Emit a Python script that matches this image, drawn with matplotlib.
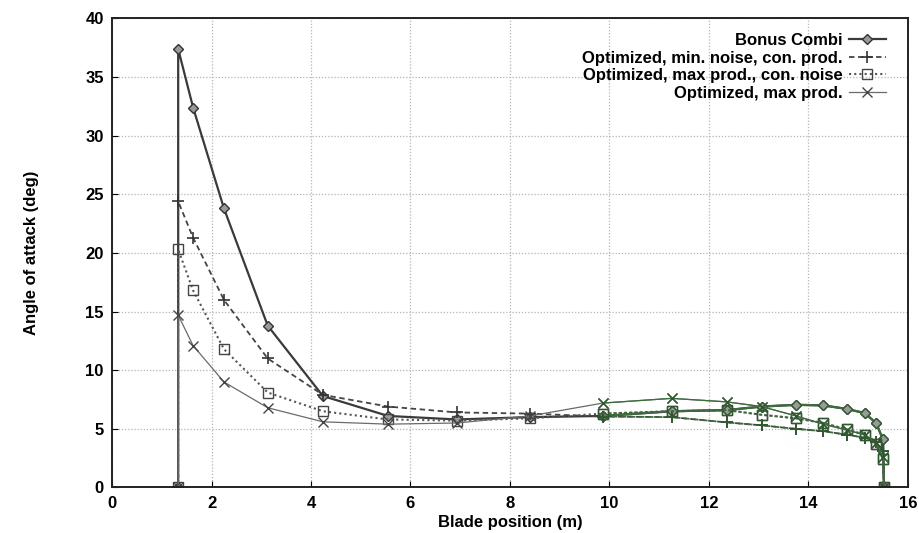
import matplotlib
matplotlib.use("Agg")
import matplotlib.pyplot as plt

plt.rcParams["font.family"] = ["Liberation Sans", "DejaVu Sans"]
plt.rcParams["font.weight"] = "bold"

# blade stations (m)
blade_pos = [1.33, 1.33, 1.63, 2.25, 3.13, 4.24, 5.55, 6.93, 8.40, 9.87,
             11.25, 12.36, 13.06, 13.75, 14.30, 14.77, 15.13, 15.36, 15.50, 15.52]

# angle of attack (deg)
bonus_combi = [0, 37.4, 32.4, 23.8, 13.8, 7.8, 6.1, 5.8, 6.0, 6.1,
               6.5, 6.6, 6.9, 7.05, 7.0, 6.7, 6.35, 5.5, 4.1, 0]
min_noise = [0, 24.4, 21.3, 16.0, 11.0, 7.9, 6.9, 6.4, 6.3, 6.05,
             6.0, 5.55, 5.3, 5.0, 4.8, 4.5, 4.25, 3.9, 3.1, 0]
max_prod_con_noise = [0, 20.3, 16.8, 11.8, 8.1, 6.5, 5.8, 5.7, 5.9, 6.3,
                      6.5, 6.6, 6.2, 5.9, 5.5, 4.95, 4.5, 3.7, 2.4, 0]
max_prod = [0, 14.7, 12.1, 9.0, 6.8, 5.6, 5.4, 5.5, 6.1, 7.2,
            7.6, 7.3, 6.9, 6.1, 5.4, 4.9, 4.5, 3.8, 2.6, 0]

labels = ["Bonus Combi",
          "Optimized, min. noise, con. prod.",
          "Optimized, max prod., con. noise",
          "Optimized, max prod."]

x_ticks = list(range(0, 17, 2))
y_ticks = list(range(0, 41, 5))

fig = plt.figure(figsize=(9.19, 5.33), dpi=100)
ax = fig.add_axes([0.1219, 0.0854, 0.866, 0.880])

styles = [
    dict(color="#3a3a3a", ls="-", lw=1.6, marker="D", ms=5,
         mfc="#9a9a9a", mec="#333333", mew=1.0),
    dict(color="#444444", ls=(0, (3, 2)), lw=1.3, marker="+", ms=8,
         mec="#333333", mew=1.2),
    dict(color="#555555", ls=(0, (1, 1.5)), lw=1.5, marker="s", ms=7,
         mfc="none", mec="#444444", mew=1.0),
    dict(color="#6a6a6a", ls="-", lw=0.9, marker="x", ms=7,
         mec="#444444", mew=1.0),
]
series = [bonus_combi, min_noise, max_prod_con_noise, max_prod]

green = "#3b6e3b"
split = 9  # scan tint turns greenish on the outer part of the blade
for ys, st, lab in zip(series, styles, labels):
    ax.plot(blade_pos, ys, label=lab, **st)
    gst = dict(st)
    gst["color"] = green
    gst["mec"] = "#2f5a2f"
    ax.plot(blade_pos[split:], ys[split:], **gst)

ax.set_xlim(0, 16)
ax.set_ylim(0, 40)
ax.set_xticks(x_ticks)
ax.set_yticks(y_ticks)
ax.tick_params(direction="in", length=4, labelsize=12, pad=6,
               top=False, right=False)
ax.grid(True, color="#b5b5b5", ls=(0, (1, 1.5)), lw=0.9)
for s in ax.spines.values():
    s.set_linewidth(1.4)
    s.set_color("#222222")

ax.set_xlabel("Blade position (m)", fontsize=12, fontweight="bold", labelpad=3)
ax.set_ylabel("Angle of attack (deg)", fontsize=12, fontweight="bold", labelpad=33)

leg = ax.legend(loc="upper right", bbox_to_anchor=(0.972, 0.969), frameon=False,
                markerfirst=False, fontsize=12, handlelength=2.2,
                handletextpad=0.4, labelspacing=0.16, borderpad=0,
                borderaxespad=0)

fig.savefig("out.png", dpi=100)
